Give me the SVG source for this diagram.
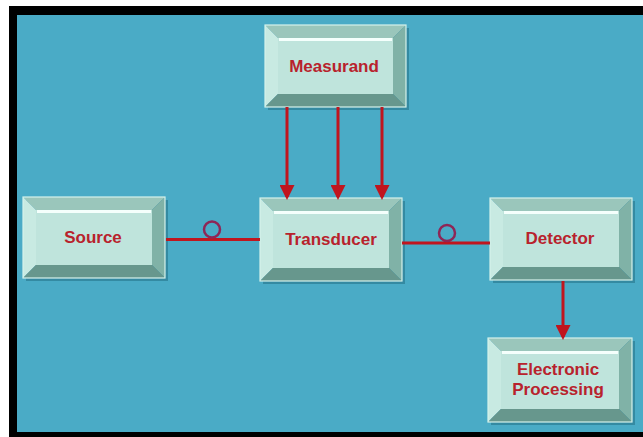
<svg xmlns="http://www.w3.org/2000/svg" width="643" height="437" viewBox="0 0 643 437">
<style>
.bg{fill:#4AABC6}
.shadow{fill:#2E8298;opacity:0.8}
.top{fill:#9AC6BB}
.left{fill:#C8EAE2}
.right{fill:#80B2A7}
.bot{fill:#67978D}
.face{fill:#BFE4DC}
.hl{fill:none;stroke:#F4FFFC;stroke-width:3}
.edge{fill:none;stroke:#D6F2EC;stroke-width:1.2}
.lbl{font-family:"Liberation Sans",Arial,sans-serif;font-weight:bold;font-size:17px;fill:#B8222C;text-anchor:middle}
.wire{stroke:#C0151E;stroke-width:3;fill:none}
.loop{stroke:#8E2656;stroke-width:2.5;fill:none}
</style>
<defs>
<marker id="ah" viewBox="0 0 10 10" refX="8" refY="5" markerWidth="5.5" markerHeight="5" orient="auto" markerUnits="strokeWidth">
<path d="M0,0 L10,5 L0,10 z" fill="#C0151E"/>
</marker>
</defs>
<rect x="0" y="0" width="643" height="437" fill="#ffffff"/>
<rect x="9" y="6" width="634" height="431" fill="#000000"/>
<rect class="bg" x="17" y="15" width="626" height="417"/>

<g id="measurand">
<rect class="shadow" x="268" y="28" width="141" height="82"/>
<polygon class="top" points="265,25 406,25 393,38 278,38"/>
<polygon class="left" points="265,25 278,38 278,94 265,107"/>
<polygon class="right" points="406,25 406,107 393,94 393,38"/>
<polygon class="bot" points="265,107 278,94 393,94 406,107"/>
<rect class="face" x="278" y="38" width="115" height="56"/>
<line class="hl" x1="279" y1="39.5" x2="392" y2="39.5"/>
<rect class="edge" x="265" y="25" width="141" height="82"/>
<text class="lbl" x="334" y="72">Measurand</text>
</g>

<g id="source">
<rect class="shadow" x="26" y="200" width="142" height="81"/>
<polygon class="top" points="23,197 165,197 152,210 36,210"/>
<polygon class="left" points="23,197 36,210 36,265 23,278"/>
<polygon class="right" points="165,197 165,278 152,265 152,210"/>
<polygon class="bot" points="23,278 36,265 152,265 165,278"/>
<rect class="face" x="36" y="210" width="116" height="55"/>
<line class="hl" x1="37" y1="211.5" x2="151" y2="211.5"/>
<rect class="edge" x="23" y="197" width="142" height="81"/>
<text class="lbl" x="93" y="243">Source</text>
</g>

<g id="transducer">
<rect class="shadow" x="263" y="201" width="142" height="83"/>
<polygon class="top" points="260,198 402,198 389,211 273,211"/>
<polygon class="left" points="260,198 273,211 273,268 260,281"/>
<polygon class="right" points="402,198 402,281 389,268 389,211"/>
<polygon class="bot" points="260,281 273,268 389,268 402,281"/>
<rect class="face" x="273" y="211" width="116" height="57"/>
<line class="hl" x1="274" y1="212.5" x2="388" y2="212.5"/>
<rect class="edge" x="260" y="198" width="142" height="83"/>
<text class="lbl" x="331" y="245">Transducer</text>
</g>

<g id="detector">
<rect class="shadow" x="493" y="201" width="142" height="82"/>
<polygon class="top" points="490,198 632,198 619,211 503,211"/>
<polygon class="left" points="490,198 503,211 503,267 490,280"/>
<polygon class="right" points="632,198 632,280 619,267 619,211"/>
<polygon class="bot" points="490,280 503,267 619,267 632,280"/>
<rect class="face" x="503" y="211" width="116" height="56"/>
<line class="hl" x1="504" y1="212.5" x2="618" y2="212.5"/>
<rect class="edge" x="490" y="198" width="142" height="82"/>
<text class="lbl" x="560" y="244">Detector</text>
</g>

<g id="electronic-processing">
<rect class="shadow" x="491" y="341" width="144" height="84"/>
<polygon class="top" points="488,338 632,338 619,351 501,351"/>
<polygon class="left" points="488,338 501,351 501,409 488,422"/>
<polygon class="right" points="632,338 632,422 619,409 619,351"/>
<polygon class="bot" points="488,422 501,409 619,409 632,422"/>
<rect class="face" x="501" y="351" width="118" height="58"/>
<line class="hl" x1="502" y1="352.5" x2="618" y2="352.5"/>
<rect class="edge" x="488" y="338" width="144" height="84"/>
<text class="lbl" x="558" y="375">Electronic</text>
<text class="lbl" x="558" y="395">Processing</text>
</g>

<g id="connectors">
<line class="wire" x1="166" y1="239.5" x2="260" y2="239.5"/>
<circle class="loop" cx="212" cy="229.5" r="8"/>
<line class="wire" x1="402" y1="243" x2="490" y2="243"/>
<circle class="loop" cx="447" cy="233" r="8"/>
<line class="wire" x1="287" y1="107" x2="287" y2="197" marker-end="url(#ah)"/>
<line class="wire" x1="338" y1="107" x2="338" y2="197" marker-end="url(#ah)"/>
<line class="wire" x1="382" y1="107" x2="382" y2="197" marker-end="url(#ah)"/>
<line class="wire" x1="563" y1="281" x2="563" y2="337" marker-end="url(#ah)"/>
</g>
</svg>
